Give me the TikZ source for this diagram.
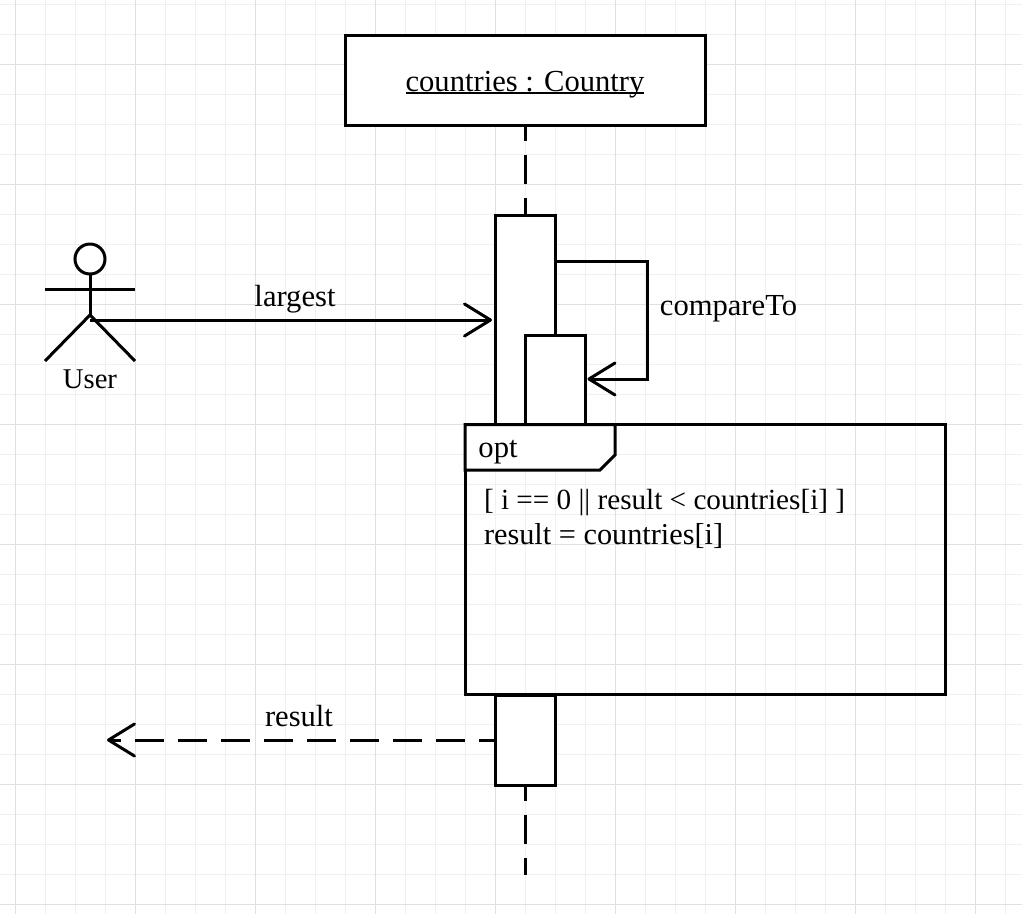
\documentclass[tikz,border=0pt]{standalone}
\usepackage{fontspec}
\setmainfont{Liberation Serif}
\usetikzlibrary{arrows.meta}
\tikzset{
  x=1pt,y=-1pt,
  line/.style={draw=black,line width=3pt,line join=miter},
  box/.style={line,fill=white,minimum width=60pt,inner sep=0pt,outer sep=0pt},
  msg/.style={line,-{Straight Barb[length=26pt,width=32pt,line width=3pt,round]}},
  dash line/.style={line,dash pattern=on 29pt off 14pt,dash phase=13pt},
  txt/.style={inner sep=0pt,outer sep=0pt,anchor=base,font=\fontsize{30.6}{34}\selectfont,text=black},
}
\definecolor{gridminor}{HTML}{F0F0F0}
\definecolor{gridmajor}{HTML}{E0E0E0}
\begin{document}
\begin{tikzpicture}
\useasboundingbox (0,0) rectangle (1022,914);
\fill[white] (0,0) rectangle (1022,914);
\foreach \gx in {45,75,105,165,195,225,285,315,345,405,435,465,525,555,585,645,675,705,765,795,825,885,915,945,1005}
  \draw[gridminor,line width=1pt] (\gx,0) -- (\gx,914);
\foreach \gy in {4,34,94,124,154,214,244,274,334,364,394,454,484,514,574,604,634,694,724,754,814,844,874}
  \draw[gridminor,line width=1pt] (0,\gy) -- (1022,\gy);
\foreach \gx in {15,135,255,375,495,615,735,855,975}
  \draw[gridmajor,line width=1pt] (\gx,0) -- (\gx,914);
\foreach \gy in {64,184,304,424,544,664,784,904}
  \draw[gridmajor,line width=1pt] (0,\gy) -- (1022,\gy);

% object
\node[line,fill=white,minimum width=360pt,minimum height=90pt,inner sep=0pt,outer sep=0pt] (obj) at (525,80) {};
\node[txt] (objlabel) at (525,91) {countries : Country};
\draw[line width=1.5pt] ([yshift=-2pt]objlabel.base west) -- ([yshift=-2pt]objlabel.base east);

% activations
\node[box,minimum height=210pt] (act1) at (525,320) {};
\node[box,minimum height=90pt] (act2) at (555,380) {};
\node[box,minimum height=90pt] (act3) at (525,740) {};

% lifelines
\coordinate (end) at (525,875);
\draw[dash line] (obj.south) -- (act1.north);
\draw[dash line] (act3.south) -- (end);

% actor
\node[draw=black,line width=3pt,circle,minimum size=30pt,inner sep=0pt,outer sep=0pt] (head) at (90,259) {};
\coordinate (hip) at (90,315);
\coordinate (armL) at (45,289);
\coordinate (armR) at (135,289);
\coordinate (footL) at (45,361);
\coordinate (footR) at (135,361);
\draw[line] (head.south) -- (hip);
\draw[line] (armL) -- (armR);
\draw[line] (footL) -- (hip) -- (footR);
\node[txt,font=\fontsize{28.6}{32}\selectfont] (user) at (90,388.5) {User};

% messages
\coordinate (msgStart) at (90,320);
\coordinate (largeTo) at (492,320);
\draw[msg] (msgStart) -- (largeTo);
\node[txt] (largest) at (295,306) {largest};

\coordinate (selfA) at (555,261);
\coordinate (selfB) at (647,261);
\coordinate (selfC) at (647,379);
\coordinate (selfD) at (587.5,379);
\draw[msg] (selfA) -- (selfB) -- (selfC) -- (selfD);
\node[txt] (cmp) at (728.5,315.5) {compareTo};

\coordinate (retEnd) at (107,740);
\draw[msg,dash pattern=on 29pt off 14pt,dash phase=13pt] (act3.west) -- (retEnd);
\node[txt] (result) at (299,726) {result};

% fragment
\fill[white] (466,425) rectangle (945,694);
\foreach \gx in {495,525,555,585,645,675,705,765,795,825,885,915}
  \draw[gridminor,line width=1pt] (\gx,425) -- (\gx,694);
\foreach \gy in {454,484,514,574,604,634}
  \draw[gridminor,line width=1pt] (466,\gy) -- (945,\gy);
\foreach \gx in {615,735,855}
  \draw[gridmajor,line width=1pt] (\gx,425) -- (\gx,694);
\draw[gridmajor,line width=1pt] (466,544) -- (945,544);
\draw[gridmajor,line width=1pt] (466,664) -- (945,664);
\node[line,fill=none,minimum width=480pt,minimum height=270pt,inner sep=0pt,outer sep=0pt] (frag) at (705,559.5) {};
\draw[line,fill=white] (frag.north west) -- (615,424.5) -- (615,455) -- (600,470) -- (465,470) -- cycle;
\node[txt] (opt) at (498,457) {opt};
\node[txt,anchor=base west,font=\fontsize{29.2}{34}\selectfont] (guard) at (484,509) {[ i == 0 || result < countries[i] ]};
\node[txt,anchor=base west,font=\fontsize{30.3}{34}\selectfont] (assign) at (484,544) {result = countries[i]};
\end{tikzpicture}
\end{document}
